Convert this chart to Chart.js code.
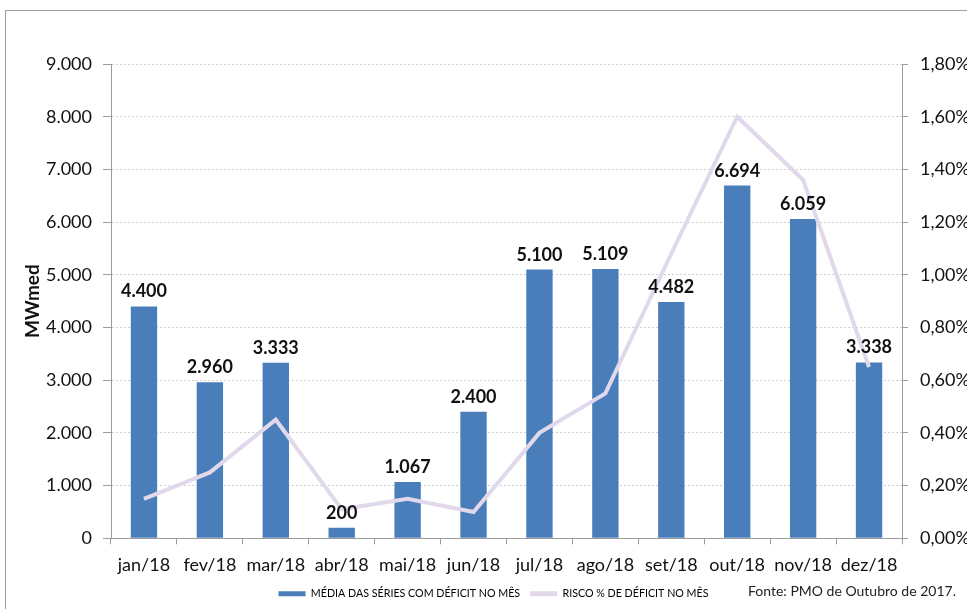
<!DOCTYPE html>
<html lang="pt-BR">
<head>
<meta charset="utf-8">
<title>Média das séries com déficit e risco de déficit – 2018</title>
<script src="https://cdn.jsdelivr.net/npm/chart.js@4.4.1/dist/chart.umd.min.js"></script>
<style>
  html, body { margin: 0; padding: 0; background: #fff; overflow: hidden; }
  #wrap { position: relative; width: 967px; height: 609px; }
  #frame { position: absolute; left: 5px; top: 10px; width: 1000px; height: 700px;
           border: 1px solid #a0a0a0; box-sizing: border-box; }
  canvas { position: absolute; left: 0; top: 0; }
</style>
</head>
<body>
<div id="wrap">
  <div id="frame"></div>
  <canvas id="chart" width="967" height="609"></canvas>
</div>
<script>
// Meses do PMO
const months = ['jan/18', 'fev/18', 'mar/18', 'abr/18', 'mai/18', 'jun/18',
                'jul/18', 'ago/18', 'set/18', 'out/18', 'nov/18', 'dez/18'];

// Média das séries com déficit no mês (MWmed)
const deficitMean = [4400, 2960, 3333, 200, 1067, 2400, 5100, 5109, 4482, 6694, 6059, 3338];

// Risco de déficit no mês (%)
const deficitRisk = [0.15, 0.25, 0.45, 0.11, 0.15, 0.10, 0.40, 0.55, 1.08, 1.60, 1.36, 0.65];

const leftTicks = { min: 0, max: 9000, step: 1000 };
const rightTicks = { min: 0, max: 1.8, step: 0.2 };

const seriesNames = ['MÉDIA DAS SÉRIES COM DÉFICIT NO MÊS', 'RISCO % DE DÉFICIT NO MÊS'];
const sourceNote = 'Fonte: PMO de Outubro de 2017.';

const BAR_COLOR = '#4a7ebb';
const LINE_COLOR = '#e1d9eb';
const AXIS_COLOR = '#9c9c9c';
const GRID_COLOR = '#cfcfcf';
const FONT = 'Lato, "Open Sans", sans-serif';

function thousands(v) {
  return String(Math.round(v)).replace(/\B(?=(\d{3})+(?!\d))/g, '.');
}
function percent(v) {
  return v.toFixed(2).replace('.', ',') + '%';
}

// Rótulos de valor acima das barras
const barLabels = {
  id: 'barLabels',
  afterDatasetsDraw(chart) {
    const meta = chart.getDatasetMeta(0);
    const ctx = chart.ctx;
    ctx.save();
    ctx.font = 'bold 18px ' + FONT;
    ctx.fillStyle = '#111';
    ctx.textAlign = 'center';
    ctx.textBaseline = 'alphabetic';
    meta.data.forEach((bar, i) => {
      ctx.fillText(thousands(deficitMean[i]), bar.x, bar.y - 9);
    });
    ctx.restore();
  }
};

// Nota de fonte ao lado da legenda
const sourceText = {
  id: 'sourceText',
  afterDraw(chart) {
    const ctx = chart.ctx;
    const lg = chart.legend;
    ctx.save();
    ctx.font = '14px ' + FONT;
    ctx.fillStyle = '#222';
    ctx.textAlign = 'left';
    ctx.textBaseline = 'middle';
    const y = lg && lg.legendHitBoxes && lg.legendHitBoxes.length
      ? lg.legendHitBoxes[0].top + lg.legendHitBoxes[0].height / 2 - 2
      : 592;
    ctx.fillText(sourceNote, 748, y);
    ctx.restore();
  }
};

new Chart(document.getElementById('chart'), {
  type: 'bar',
  data: {
    labels: months,
    datasets: [
      {
        type: 'bar',
        label: seriesNames[0],
        data: deficitMean,
        yAxisID: 'y',
        backgroundColor: BAR_COLOR,
        borderWidth: 0,
        barPercentage: 0.4,
        categoryPercentage: 1.0,
        order: 2
      },
      {
        type: 'line',
        label: seriesNames[1],
        data: deficitRisk,
        yAxisID: 'y1',
        borderColor: LINE_COLOR,
        backgroundColor: LINE_COLOR,
        borderWidth: 4,
        tension: 0,
        pointRadius: 0,
        fill: false,
        order: 1
      }
    ]
  },
  plugins: [barLabels, sourceText],
  options: {
    responsive: false,
    animation: false,
    devicePixelRatio: 1,
    layout: { padding: { top: 64, left: 20, right: 0, bottom: 0 } },
    plugins: {
      tooltip: { enabled: false },
      legend: {
        position: 'bottom',
        align: 'center',
        labels: {
          font: { family: FONT, size: 10.7 },
          color: '#333',
          boxWidth: 27,
          boxHeight: 5,
          padding: 10,
          sort: (a, b) => a.datasetIndex - b.datasetIndex,
          generateLabels(chart) {
            return chart.data.datasets.map((ds, i) => ({
              text: ds.label,
              fillStyle: i === 0 ? BAR_COLOR : LINE_COLOR,
              strokeStyle: i === 0 ? BAR_COLOR : LINE_COLOR,
              lineWidth: 0,
              hidden: false,
              datasetIndex: i
            }));
          }
        }
      }
    },
    scales: {
      x: {
        offset: true,
        grid: {
          offset: true,
          drawOnChartArea: false,
          drawTicks: true,
          tickLength: 6,
          color: AXIS_COLOR
        },
        border: { display: true, color: AXIS_COLOR, width: 1 },
        ticks: {
          font: { family: FONT, size: 18 },
          color: '#111',
          padding: 10,
          maxRotation: 0,
          autoSkip: false
        },
        afterFit(scale) { scale.height = 40; }
      },
      y: {
        position: 'left',
        min: leftTicks.min,
        max: leftTicks.max,
        grid: {
          color: GRID_COLOR,
          drawTicks: true,
          tickLength: 8,
          tickColor: AXIS_COLOR
        },
        border: { display: true, color: AXIS_COLOR, width: 1, dash: [2, 2] },
        ticks: {
          stepSize: leftTicks.step,
          font: { family: FONT, size: 18 },
          color: '#111',
          padding: 11,
          callback: v => thousands(v)
        },
        title: {
          display: true,
          text: 'MWmed',
          font: { family: FONT, size: 19, weight: 'bold' },
          color: '#111',
          padding: { top: 1, bottom: 0 }
        },
        afterFit(scale) { scale.width = 91; }
      },
      y1: {
        position: 'right',
        min: rightTicks.min,
        max: rightTicks.max,
        grid: {
          drawOnChartArea: false,
          drawTicks: true,
          tickLength: 6,
          tickColor: AXIS_COLOR
        },
        border: { display: true, color: AXIS_COLOR, width: 1 },
        ticks: {
          stepSize: rightTicks.step,
          font: { family: FONT, size: 18 },
          color: '#111',
          padding: 12,
          callback: v => percent(v)
        },
        afterFit(scale) { scale.width = 65; }
      }
    }
  }
});
</script>
</body>
</html>
